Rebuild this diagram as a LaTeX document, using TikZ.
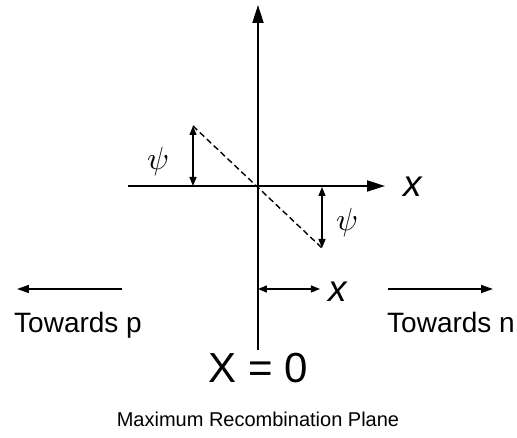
\documentclass[tikz,border=0pt]{standalone}
\usepackage{fontspec}
\setmainfont{Liberation Sans}
\usepackage{tikz}
\usetikzlibrary{arrows.meta}

\begin{document}
\begin{tikzpicture}[x=1pt,y=1pt]
      \tikzstyle{axis} = [line width=2pt,-{Triangle[length=18pt,width=11pt]}]
      \tikzstyle{arrow} = [line width=1.6pt,-{Triangle[length=12pt,width=8pt]}]
      \tikzstyle{span} = [line width=1.3pt,{Triangle[length=9pt,width=7pt]}-{Triangle[length=9pt,width=7pt]}]
      \tikzstyle{txt} = [inner sep=0pt, anchor=base, font=\fontsize{28}{30}\selectfont]
      \tikzstyle{var} = [txt, font=\fontsize{37}{40}\selectfont\itshape]
      \tikzstyle{greek} = [inner sep=0pt]
      \useasboundingbox (-258,-252) rectangle (259,186);

      % axes
      \coordinate (origin) at (0,0);
      \coordinate (bottom) at (0,-164);
      \coordinate (top) at (0,181);
      \coordinate (left) at (-130,0);
      \coordinate (right) at (127,0);
      \draw [axis] (bottom) -- (top);
      \draw [axis] (left) -- (right);
      \node (xaxis) [var] at (155,-11) {x};

      % potential line and its heights
      \coordinate (peak) at (-65,60);
      \coordinate (dip) at (64,-62);
      \coordinate (peakfoot) at (-65,0);
      \coordinate (dipfoot) at (64,-1);
      \draw [line width=1.4pt, dashed, dash pattern=on 6pt off 3.5pt] (peak) -- (dip);
      \draw [span] (peakfoot) -- (peak);
      \draw [span] (dipfoot) -- (dip);
      \node (psiup) [greek] at (-100,24) {\scalebox{3.2}{$\psi$}};
      \node (psidown) [greek] at (89,-37) {\scalebox{3.2}{$\psi$}};

      % distance from the plane
      \coordinate (xstart) at (0,-103);
      \coordinate (xend) at (62,-103);
      \draw [span] (xstart) -- (xend);
      \node (xdist) [var] at (80,-116) {x};

      % directions
      \coordinate (pstart) at (-136,-103);
      \coordinate (pend) at (-241,-103);
      \coordinate (nstart) at (130,-103);
      \coordinate (nend) at (235,-103);
      \draw [arrow] (pstart) -- (pend);
      \draw [arrow] (nstart) -- (nend);
      \node (towardsp) [txt] at (-180,-147) {Towards p};
      \node (towardsn) [txt] at (193,-147) {Towards n};

      \node (plane) [txt, font=\fontsize{42}{44}\selectfont] at (0,-197) {X = 0};
      \node (caption) [txt, font=\fontsize{20}{22}\selectfont] at (0,-241) {Maximum Recombination Plane};
    \end{tikzpicture}
\end{document}
